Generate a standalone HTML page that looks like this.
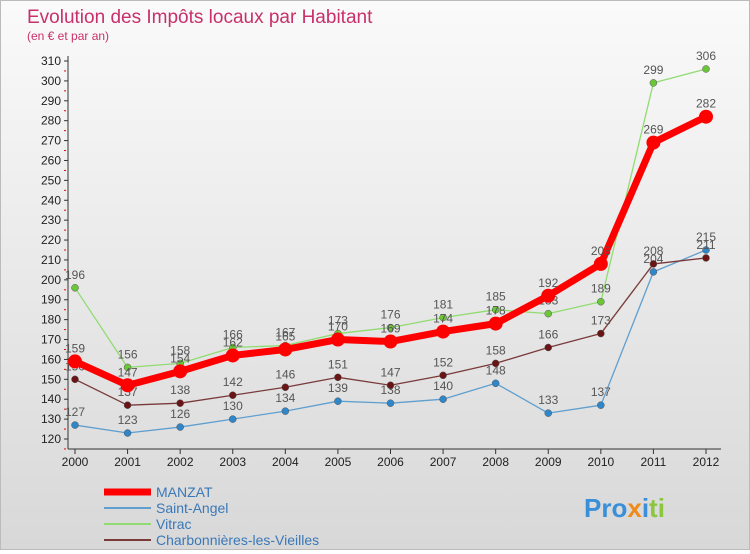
<!DOCTYPE html>
<html><head><meta charset="utf-8"><style>
body{margin:0;width:750px;height:550px;overflow:hidden;font-family:"Liberation Sans",sans-serif}
#wrap{position:relative;width:748px;height:548px;border:1px solid #bbb;background:linear-gradient(#fafafa,#d8d8d8)}
</style></head><body>
<div id="wrap">
<svg id="chart" width="748" height="548">
<text x="26" y="22" font-size="19" fill="#c8306a">Evolution des Impôts locaux par Habitant</text>
<text x="26" y="39" font-size="12" fill="#c8306a">(en € et par an)</text>
<text x="583" y="516" font-size="26" font-weight="bold"><tspan fill="#3a8fd8">Pro</tspan><tspan fill="#f08a1a">x</tspan><tspan fill="#3a8fd8">i</tspan><tspan fill="#8cc63f">ti</tspan></text>
</svg></div>
<script>
const years=[2000,2001,2002,2003,2004,2005,2006,2007,2008,2009,2010,2011,2012];
const yTicks=[120,130,140,150,160,170,180,190,200,210,220,230,240,250,260,270,280,290,300,310];
const manzat=[159,147,154,162,165,170,169,174,178,192,208,269,282];
const saintAngel=[127,123,126,130,134,139,138,140,148,133,137,204,215];
const vitrac=[196,156,158,166,167,173,176,181,185,183,189,299,306];
const charbonnieres=[150,137,138,142,146,151,147,152,158,166,173,208,211];
const svg=document.getElementById('chart');const NS='http://www.w3.org/2000/svg';
function X(i){return 74+i*(705-74)/12;}
function Y(v){return 438-(v-120)*(438-60)/190;}
function mk(t,a,p){const e=document.createElementNS(NS,t);for(const k in a)e.setAttribute(k,a[k]);(p||svg).appendChild(e);return e;}
let ax=mk('line',{x1:67,y1:55,x2:67,y2:448,stroke:'#333'});


let bx=mk('line',{x1:67,y1:448,x2:720,y2:448,stroke:'#333'});


yTicks.forEach(v=>{const y=Y(v);
mk('line',{x1:63,y1:y,x2:67,y2:y,stroke:'#333'});
mk('line',{x1:63,y1:y+9.95,x2:65,y2:y+9.95,stroke:'#e00'});
const t=mk('text',{x:60,y:y+4,'font-size':12,fill:'#222','text-anchor':'end'});t.textContent=v;

});
years.forEach((yr,i)=>{mk('line',{x1:X(i),y1:448,x2:X(i),y2:453,stroke:'#333'});
const t=mk('text',{x:X(i),y:465,'font-size':12,fill:'#222','text-anchor':'middle'});t.textContent=yr;

});
const series=[
{n:'saint-angel',d:saintAngel,c:'#5f9fcf',f:'#2f86c8',w:1.3,r:3.5},
{n:'charbonnieres',d:charbonnieres,c:'#7a3a3a',f:'#6a1515',w:1.3,r:3.5},
{n:'vitrac',d:vitrac,c:'#90dc70',f:'#6cc63a',w:1.3,r:3.5},
{n:'manzat',d:manzat,c:'#f00',f:'#f00',w:7,r:7}];
series.forEach(s=>{const g=mk('g',{});


mk('polyline',{points:s.d.map((v,i)=>X(i)+','+Y(v)).join(' '),fill:'none',stroke:s.c,'stroke-width':s.w,'stroke-linejoin':'round'},g);
s.d.forEach((v,i)=>{const c=mk('circle',{cx:X(i),cy:Y(v),r:s.r,fill:s.f,stroke:s.n=='manzat'?'none':'#555','stroke-width':0.5},g);


const t=mk('text',{x:X(i),y:Y(v)-9,'font-size':12,fill:'#555','text-anchor':'middle'},g);t.textContent=v;

});});
const leg=[['MANZAT','#f00',7],['Saint-Angel','#5f9fcf',2],['Vitrac','#90dc70',2],['Charbonnières-les-Vieilles','#7a3a3a',2]];
leg.forEach((l,i)=>{const y=491+i*16;const g=mk('g',{});


mk('line',{x1:103,y1:y,x2:150,y2:y,stroke:l[1],'stroke-width':l[2]},g);
const t=mk('text',{x:155,y:y+5,'font-size':14,fill:'#3a78b8'},g);t.textContent=l[0];});
</script></body></html>
